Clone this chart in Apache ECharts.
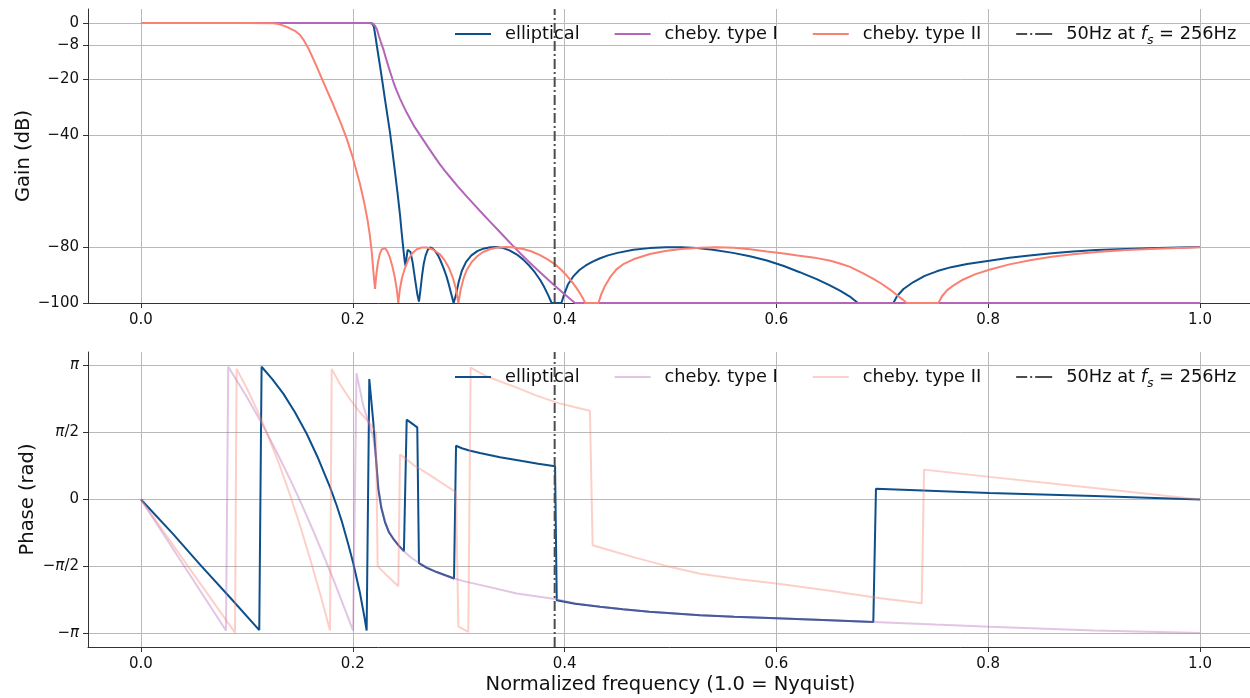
<!DOCTYPE html>
<html>
<head>
<meta charset="utf-8">
<title>Filter responses</title>
<script src="https://cdn.jsdelivr.net/npm/echarts@6/dist/echarts.min.js"></script>
<style>
  html, body { margin: 0; padding: 0; background: #ffffff; overflow: hidden; }
  #main { width: 1250px; height: 698px; }
</style>
</head>
<body>
<div id="main"></div>
<script>
// ---- tick positions and labels ----
const freqTicks = [0, 0.2, 0.4, 0.6, 0.8, 1.0];
const gainTicks = [0, -8, -20, -40, -80, -100];
const phaseTicks = [-Math.PI, -Math.PI / 2, 0, Math.PI / 2, Math.PI];
const phaseTickLabels = ['\u2212{i|\u03c0}', '\u2212{i|\u03c0}/2', '0', '{i|\u03c0}/2', '{i|\u03c0}'];

// 50 Hz at fs = 256 Hz, as a fraction of Nyquist (128 Hz)
const notchFreq = 50 / 128;

// ---- series names ----
const names = ['elliptical', 'cheby. type I', 'cheby. type II', '50Hz at fs = 256Hz'];

// ---- gain (dB) vs normalized frequency, floored at -100 dB ----
const ellipticalGain = [
  [0, 0], [0.05, 0], [0.1, 0], [0.15, 0], [0.2, 0], [0.216, 0], [0.2185, -0.2], [0.22, -1.5],
  [0.2215, -5], [0.2235, -10], [0.2257, -15.3], [0.228, -21], [0.2303, -27], [0.2327, -33],
  [0.2351, -39], [0.2375, -46], [0.2398, -53], [0.2422, -60.5], [0.2446, -68.5], [0.2462, -75],
  [0.2477, -80.5], [0.249, -85], [0.2499, -86.8], [0.2507, -84], [0.2518, -81], [0.2531, -80.5],
  [0.2545, -81.8], [0.2565, -85.5], [0.259, -92], [0.261, -97], [0.2625, -99.5], [0.264, -95],
  [0.2655, -90], [0.267, -86], [0.2688, -83], [0.2708, -81], [0.2729, -80.2], [0.275, -80.4],
  [0.2775, -81.3], [0.2805, -83], [0.283, -85], [0.286, -87.8], [0.2885, -90.5], [0.291, -93.8],
  [0.2935, -97.5], [0.2952, -100], [0.2975, -97], [0.3, -92.5], [0.303, -88.5], [0.307, -85.3],
  [0.312, -83], [0.318, -81.4], [0.324, -80.5], [0.33, -80.1], [0.336, -80], [0.342, -80.4],
  [0.348, -81.2], [0.355, -82.7], [0.361, -84.5], [0.367, -86.8], [0.372, -89.1], [0.377, -91.8],
  [0.381, -94.5], [0.3845, -97.2], [0.3878, -100], [0.397, -100], [0.3995, -97], [0.403, -93.5],
  [0.408, -90.6], [0.414, -88.2], [0.42, -86.6], [0.4265, -85.2], [0.433, -84.1], [0.441, -83],
  [0.45, -82.1], [0.465, -81], [0.48, -80.4], [0.496, -80.1], [0.51, -80.1], [0.525, -80.4],
  [0.54, -81], [0.559, -82.1], [0.575, -83.3], [0.591, -84.8], [0.607, -86.8], [0.622, -89],
  [0.638, -91.5], [0.65, -93.6], [0.66, -95.6], [0.669, -97.6], [0.677, -100], [0.7104, -100],
  [0.714, -97.5], [0.72, -95], [0.729, -92.6], [0.74, -90.3], [0.752, -88.6], [0.765, -87.2],
  [0.78, -86.1], [0.801, -84.9], [0.82, -83.8], [0.839, -83], [0.86, -82.2], [0.88, -81.6],
  [0.902, -81.1], [0.93, -80.7], [0.96, -80.35], [1.0, -80]
];
const chebyIGain = [
  [0, 0], [0.05, 0], [0.1, 0], [0.15, 0], [0.2, 0], [0.216, 0], [0.219, -0.3], [0.221, -1],
  [0.223, -2.5], [0.2245, -4.5], [0.2265, -6.8], [0.2289, -9.4], [0.231, -12.2], [0.2335, -15.3],
  [0.236, -18.3], [0.2383, -21], [0.241, -23.8], [0.2446, -27], [0.2478, -29.6], [0.2509, -32],
  [0.2545, -34.5], [0.2585, -37.2], [0.2645, -40.6], [0.27, -43.7], [0.2762, -47.2], [0.2823, -50.5],
  [0.287, -52.8], [0.2918, -55], [0.2995, -58.5], [0.3075, -61.9], [0.3155, -65.2], [0.3232, -68.4],
  [0.33, -71.1], [0.336, -73.5], [0.344, -76.7], [0.3513, -79.6], [0.358, -82.2], [0.3645, -84.6],
  [0.3705, -86.8], [0.3768, -89], [0.384, -91.5], [0.391, -93.9], [0.4, -96.9], [0.4098, -100],
  [0.5, -100], [0.7, -100], [1.0, -100]
];
const chebyIIGain = [
  [0, 0], [0.05, 0], [0.1, 0], [0.125, -0.1], [0.13, -0.35], [0.1338, -0.85], [0.1375, -1.4],
  [0.14, -1.8], [0.145, -2.7], [0.15, -4.2], [0.154, -6.3], [0.158, -9], [0.1627, -12.8],
  [0.168, -17.4], [0.175, -23.5], [0.1816, -29.2], [0.189, -36], [0.1942, -41.2], [0.2, -48],
  [0.2068, -57.5], [0.211, -64.5], [0.214, -70.5], [0.216, -75.5], [0.218, -82], [0.2195, -89],
  [0.221, -95], [0.2222, -90], [0.2238, -85.5], [0.2255, -82.5], [0.2272, -80.9], [0.2288, -80.2],
  [0.2305, -80.4], [0.2325, -81.5], [0.2348, -83.5], [0.2372, -86.6], [0.2395, -90.5], [0.2415, -95],
  [0.243, -100], [0.2445, -95], [0.2465, -91], [0.2493, -87.5], [0.2525, -84.5], [0.256, -82.3],
  [0.2605, -80.8], [0.265, -80.2], [0.27, -80.2], [0.2755, -80.9], [0.282, -82.5], [0.2865, -84.6],
  [0.291, -87.6], [0.2945, -91], [0.2975, -95], [0.2997, -100], [0.302, -95], [0.3048, -91],
  [0.3075, -88.3], [0.312, -85.5], [0.3175, -83.3], [0.323, -81.8], [0.33, -80.7], [0.337, -80.2],
  [0.345, -80], [0.353, -80.2], [0.361, -80.7], [0.369, -81.6], [0.3768, -82.9], [0.384, -84.4],
  [0.391, -86.2], [0.397, -88.2], [0.402, -90.2], [0.4065, -92.2], [0.411, -94.5], [0.4145, -96.5],
  [0.4175, -98.5], [0.4195, -100], [0.432, -100], [0.4345, -97], [0.438, -94], [0.443, -90.8],
  [0.449, -88], [0.456, -86], [0.465, -84.4], [0.4806, -82.5], [0.495, -81.4], [0.51, -80.7],
  [0.528, -80.3], [0.5436, -80.1], [0.56, -80.3], [0.575, -80.8], [0.591, -81.6], [0.607, -82.3],
  [0.62, -83], [0.636, -83.8], [0.651, -84.9], [0.66, -85.9], [0.6695, -87.1], [0.682, -89.4],
  [0.692, -91.5], [0.7, -93.3], [0.7073, -95.2], [0.714, -97.2], [0.719, -98.7], [0.723, -100],
  [0.753, -100], [0.7565, -97.5], [0.761, -95.5], [0.768, -93.5], [0.7765, -91.6], [0.788, -89.7],
  [0.801, -88.1], [0.82, -86.2], [0.8395, -84.7], [0.86, -83.5], [0.88, -82.6], [0.9025, -81.8],
  [0.93, -81.1], [0.965, -80.5], [1.0, -80.1]
];

// ---- wrapped phase (rad) vs normalized frequency ----
const ellipticalPhase = [
  [0, 0], [0.03, -0.8], [0.056, -1.53], [0.085, -2.32], [0.1117, -3.06],
  [0.1139, 3.11], [0.124, 2.82], [0.1344, 2.48], [0.1454, 2.045], [0.1565, 1.54], [0.1674, 0.96],
  [0.1785, 0.29], [0.1848, -0.14], [0.1895, -0.5], [0.196, -1.07], [0.2005, -1.5], [0.2068, -2.19],
  [0.2109, -2.74], [0.2131, -3.07],
  [0.2156, 2.82], [0.2194, 1.81], [0.2215, 1.1], [0.2241, 0.25], [0.227, -0.2], [0.2304, -0.53],
  [0.234, -0.76], [0.2383, -0.92], [0.243, -1.07], [0.2483, -1.21],
  [0.2509, 1.87], [0.2609, 1.69],
  [0.2625, -1.49], [0.27, -1.6], [0.2792, -1.7], [0.2956, -1.85],
  [0.2975, 1.26], [0.303, 1.2], [0.31, 1.15], [0.32, 1.09], [0.339, 0.99], [0.36, 0.9],
  [0.375, 0.84], [0.391, 0.78],
  [0.3926, -2.36], [0.41, -2.44], [0.4334, -2.51], [0.455, -2.57], [0.48, -2.63], [0.528, -2.71],
  [0.56, -2.745], [0.6, -2.78], [0.65, -2.83], [0.6915, -2.87],
  [0.694, 0.25], [0.801, 0.15], [0.9, 0.08], [1.0, 0]
];
const chebyIPhase = [
  [0, 0], [0.04, -1.53], [0.0803, -3.07],
  [0.0824, 3.11], [0.1, 2.4], [0.1155, 1.72], [0.13, 1.02], [0.1424, 0.39], [0.1524, -0.15],
  [0.1624, -0.72], [0.1724, -1.31], [0.1824, -1.92], [0.1924, -2.56], [0.2003, -3.07],
  [0.2035, 2.96], [0.2099, 2.2], [0.2155, 1.75], [0.2194, 1.45], [0.2215, 1.05], [0.2241, 0.3],
  [0.227, -0.18], [0.2304, -0.5], [0.234, -0.74], [0.2383, -0.92], [0.243, -1.07], [0.2477, -1.2],
  [0.2555, -1.37], [0.2635, -1.5], [0.2792, -1.7], [0.2956, -1.85], [0.3075, -1.93], [0.3201, -2.0],
  [0.3548, -2.2], [0.391, -2.33], [0.41, -2.43], [0.4334, -2.51], [0.455, -2.57], [0.48, -2.63],
  [0.528, -2.71], [0.56, -2.745], [0.6, -2.78], [0.65, -2.83], [0.6915, -2.87], [0.75, -2.93],
  [0.801, -2.98], [0.9, -3.07], [1.0, -3.13]
];
const chebyIIPhase = [
  [0, 0], [0.044, -1.55], [0.0888, -3.12],
  [0.0903, 3.06], [0.1003, 2.59], [0.1103, 2.06], [0.1203, 1.48], [0.1303, 0.84], [0.1403, 0.14],
  [0.1503, -0.62], [0.1603, -1.44], [0.1703, -2.31], [0.1785, -3.07],
  [0.1801, 3.06], [0.188, 2.7], [0.1973, 2.35], [0.2065, 2.05], [0.2162, 1.78], [0.2219, 1.57],
  [0.2235, -1.56], [0.233, -1.8], [0.243, -2.03],
  [0.2446, 1.06], [0.258, 0.8], [0.2729, 0.57], [0.285, 0.37], [0.2975, 0.17],
  [0.2997, -2.98], [0.3091, -3.1],
  [0.3113, 3.09], [0.325, 2.9], [0.34, 2.76], [0.3548, 2.62], [0.373, 2.44], [0.3926, 2.27],
  [0.41, 2.16], [0.4239, 2.08],
  [0.4265, -1.07], [0.44, -1.17], [0.4649, -1.35], [0.495, -1.55], [0.528, -1.74], [0.565, -1.87],
  [0.6, -1.97], [0.6506, -2.14], [0.6695, -2.21], [0.7, -2.32], [0.7372, -2.43],
  [0.7394, 0.7], [0.801, 0.53], [0.9, 0.27], [1.0, 0]
];

// ---- styling ----
const FONT = '"DejaVu Sans", "Liberation Sans", sans-serif';
const INK = '#111111';
const SPINE = '#333333';
const GRID = '#b9b9b9';
const colors = { ell: '#0d4f8b', c1: '#b366b8', c2: '#fa8072', vline: '#4d4d4d' };
const fadedOpacity = 0.38;
const lightC1 = '#e2c5e4';
const lightC2 = '#fdcfc9';
const dashDot = [10, 3, 2, 3];
const legendFontSize = 17.8;

// legend handle shapes (36 x 2)
const solidIcon = 'path://M0 0H36V2H0Z';
const dashDotIcon = 'path://M0 0H11V2H0Z M14 0H16V2H14Z M19 0H36V2H19Z';

const gainMin = -100, gainMax = 5;
const phaseMin = -1.1 * Math.PI, phaseMax = 1.1 * Math.PI;

function xAxisFor(gridIndex, withName) {
  const ax = {
    type: 'value', gridIndex: gridIndex, min: -0.05, max: 1.05,
    axisLine: { show: true, onZero: false, lineStyle: { color: SPINE, width: 1 } },
    axisTick: { show: true, customValues: freqTicks, length: 5, lineStyle: { color: SPINE, width: 1 } },
    axisLabel: {
      customValues: freqTicks, formatter: v => v.toFixed(1),
      fontSize: 15, fontFamily: FONT, color: INK, margin: 10
    },
    splitLine: { show: true, lineStyle: { color: GRID, width: 1 } }
  };
  if (withName) {
    ax.name = 'Normalized frequency (1.0 = Nyquist)';
    ax.nameLocation = 'middle';
    ax.nameGap = 28;
    ax.nameMoveOverlap = false;
    ax.nameTextStyle = { fontSize: 19.5, fontFamily: FONT, color: INK };
  }
  return ax;
}

function legendFor(top, c1Color, c2Color) {
  return {
    left: 455, top: top, orient: 'horizontal', padding: 0,
    itemWidth: 36, itemHeight: 2, itemGap: 35,
    selectedMode: false,
    textStyle: {
      fontSize: legendFontSize, fontFamily: FONT, color: INK, padding: [0, 0, 0, 9],
      rich: {
        it: { fontSize: legendFontSize, fontFamily: FONT, fontStyle: 'italic', color: INK },
        sub: { fontSize: 12.5, fontFamily: FONT, fontStyle: 'italic', color: INK, verticalAlign: 'bottom', padding: [0, 0, -4, 0] }
      }
    },
    formatter: name => name === names[3] ? '50Hz at {it|f}{sub|s} = 256Hz' : name,
    data: [
      { name: names[0], icon: solidIcon, itemStyle: { color: colors.ell } },
      { name: names[1], icon: solidIcon, itemStyle: { color: c1Color } },
      { name: names[2], icon: solidIcon, itemStyle: { color: c2Color } },
      { name: names[3], icon: dashDotIcon, itemStyle: { color: colors.vline } }
    ]
  };
}

function lineSeries(name, data, color, gridIdx, extra) {
  return Object.assign({
    type: 'line', name: name, data: data,
    xAxisIndex: gridIdx, yAxisIndex: gridIdx,
    showSymbol: false, symbol: 'none', clip: true,
    color: color,
    lineStyle: { color: color, width: 2 },
    emphasis: { disabled: true }
  }, extra || {});
}

const option = {
  animation: false,
  backgroundColor: '#ffffff',
  textStyle: { fontFamily: FONT },
  grid: [
    { left: 88, top: 9, width: 1165, height: 294, containLabel: false, outerBoundsMode: 'none' },
    { left: 88, top: 352, width: 1165, height: 295, containLabel: false, outerBoundsMode: 'none' }
  ],
  legend: [
    legendFor(25, colors.c1, colors.c2),
    legendFor(368, lightC1, lightC2)
  ],
  xAxis: [xAxisFor(0, false), xAxisFor(1, true)],
  yAxis: [
    {
      type: 'value', gridIndex: 0, min: gainMin, max: gainMax,
      name: 'Gain (dB)', nameLocation: 'middle', nameGap: 54, nameRotate: 90, nameMoveOverlap: false,
      nameTextStyle: { fontSize: 19.5, fontFamily: FONT, color: INK },
      axisLine: { show: true, onZero: false, lineStyle: { color: SPINE, width: 1 } },
      axisTick: { show: true, customValues: gainTicks, length: 5, lineStyle: { color: SPINE, width: 1 } },
      axisLabel: {
        customValues: gainTicks,
        formatter: v => (v < 0 ? '\u2212' + Math.abs(v) : String(v)),
        fontSize: 15, fontFamily: FONT, color: INK, margin: 9
      },
      splitLine: { show: true, lineStyle: { color: GRID, width: 1 } }
    },
    {
      type: 'value', gridIndex: 1, min: phaseMin, max: phaseMax,
      name: 'Phase (rad)', nameLocation: 'middle', nameGap: 50, nameRotate: 90, nameMoveOverlap: false,
      nameTextStyle: { fontSize: 19.5, fontFamily: FONT, color: INK },
      axisLine: { show: true, onZero: false, lineStyle: { color: SPINE, width: 1 } },
      axisTick: { show: true, customValues: phaseTicks, length: 5, lineStyle: { color: SPINE, width: 1 } },
      axisLabel: {
        customValues: phaseTicks,
        formatter: v => {
          let best = 0;
          phaseTicks.forEach((t, i) => { if (Math.abs(t - v) < Math.abs(phaseTicks[best] - v)) best = i; });
          return phaseTickLabels[best];
        },
        fontSize: 15, fontFamily: FONT, color: INK, margin: 9,
        rich: { i: { fontSize: 15, fontFamily: FONT, fontStyle: 'italic', color: INK } }
      },
      splitLine: { show: true, lineStyle: { color: GRID, width: 1 } }
    }
  ],
  series: [
    // gain panel
    lineSeries(names[0], ellipticalGain, colors.ell, 0),
    lineSeries(names[1], chebyIGain, colors.c1, 0),
    lineSeries(names[2], chebyIIGain, colors.c2, 0),
    lineSeries(names[3], [[notchFreq, gainMin], [notchFreq, gainMax]], colors.vline, 0,
      { lineStyle: { color: colors.vline, width: 2, type: dashDot } }),
    // phase panel
    lineSeries(names[0], ellipticalPhase, colors.ell, 1),
    lineSeries(names[1], chebyIPhase, colors.c1, 1, { lineStyle: { color: colors.c1, width: 2, opacity: fadedOpacity } }),
    lineSeries(names[2], chebyIIPhase, colors.c2, 1, { lineStyle: { color: colors.c2, width: 2, opacity: fadedOpacity } }),
    lineSeries(names[3], [[notchFreq, phaseMin], [notchFreq, phaseMax]], colors.vline, 1,
      { lineStyle: { color: colors.vline, width: 2, type: dashDot } })
  ]
};

const chart = echarts.init(document.getElementById('main'), null, { renderer: 'canvas', width: 1250, height: 698 });
chart.setOption(option);
</script>
</body>
</html>
